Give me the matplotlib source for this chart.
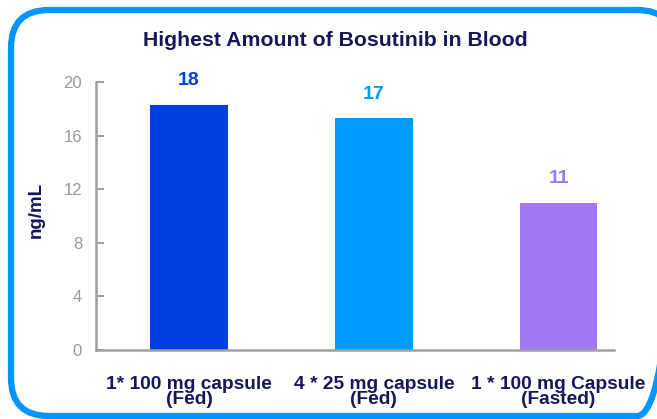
import matplotlib
matplotlib.use("Agg")
import matplotlib.pyplot as plt
from matplotlib.patches import FancyBboxPatch

categories = ["1* 100 mg capsule\n(Fed)", "4 * 25 mg capsule\n(Fed)", "1 * 100 mg Capsule\n(Fasted)"]
values = [18.3, 17.3, 11.0]
bar_colors = ["#0040E0", "#0099FF", "#A078F5"]
yticks = [0, 4, 8, 12, 16, 20]

W, H = 657, 419
plt.rcParams['font.family'] = ['Liberation Sans', 'DejaVu Sans']
fig = plt.figure(figsize=(W / 100, H / 100), dpi=100)

# background frame (pixel coordinates, origin at top-left)
bg = fig.add_axes([0, 0, 1, 1])
bg.set_xlim(0, W)
bg.set_ylim(H, 0)
bg.axis("off")
frame = FancyBboxPatch((11, 10), 664, 406, boxstyle="round,pad=0,rounding_size=38",
                       fill=False, edgecolor="#0095FF", linewidth=4.5, clip_on=False)
bg.add_patch(frame)

navy = "#16165C"
ax = fig.add_axes([96 / W, 69 / H, 518 / W, 268 / H])
x = list(range(len(values)))
bars = ax.bar(x, values, width=0.42, color=bar_colors)
ax.set_xlim(-0.504, 2.30)
ax.set_ylim(0, 20)
ax.set_yticks(yticks)
ax.set_xticks(x)
ax.set_xticklabels(categories, color=navy, fontsize=13.8, fontweight="bold",
                   linespacing=0.82)
for s in ["top", "right"]:
    ax.spines[s].set_visible(False)
for s in ["left", "bottom"]:
    ax.spines[s].set_color("#A0A0A0")
    ax.spines[s].set_linewidth(1.8)
ax.tick_params(axis="y", direction="in", length=6, width=1.5, color="#A0A0A0",
               labelcolor="#999999", labelsize=12, pad=10)
ax.tick_params(axis="x", length=0, pad=19)

for xi, v, c in zip(x, values, bar_colors):
    ax.text(xi, v + 1.8, f"{v:.0f}", ha="center", va="center", color=c,
            fontsize=14, fontweight="bold")

ax.set_ylabel("ng/mL", color=navy, fontsize=13.5, fontweight="bold")
ax.yaxis.set_label_coords((45 - 96) / 518, 0.522)
fig.text(335.5 / W, 1 - 46 / H, "Highest Amount of Bosutinib in Blood", ha="center",
         va="baseline", color=navy, fontsize=15.3, fontweight="bold")

fig.savefig("out.png", dpi=100)
